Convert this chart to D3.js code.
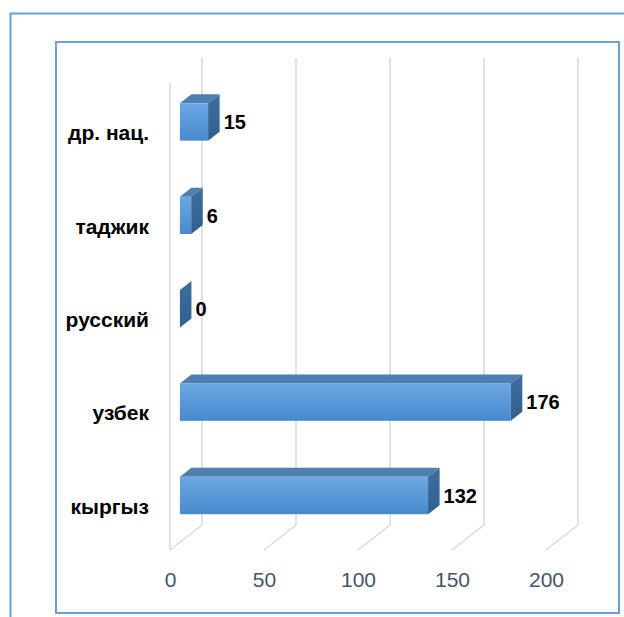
<!DOCTYPE html>
<html>
<head>
<meta charset="utf-8">
<script src="https://cdn.jsdelivr.net/npm/d3@7"></script>
<style>
  body { margin: 0; background: #fff; }
  svg { display: block; }
</style>
</head>
<body>
<div id="container"></div>
<script>
/* CONSTANTS AND GLOBALS */
const width = 624,
  height = 617

// 3d depth offset (back plane is up and to the right)
const DX = 32, DY = 25
const z0 = 0.31, z1 = 0.67   // bar front / back depth

/* DATA */
const categories = ["кыргыз", "узбек", "русский", "таджик", "др. нац."]
const values = [132, 176, 0, 6, 15]
const tickValues = [0, 50, 100, 150, 200]

const data = categories.map((c, i) => ({ cat: c, value: values[i] }))

// + SCALES (front plane)
const xScale = d3.scaleLinear()
  .domain([0, 200])
  .range([170, 546])

const yScale = d3.scaleBand()
  .domain(categories.slice().reverse())
  .range([83, 550])
  .paddingInner(0.6)
  .paddingOuter(0.3)

const proj = (v, z, y) => [xScale(v) + z * DX, y - z * DY]

// CREATE SVG ELEMENT
const svg = d3.select("#container")
  .append("svg")
  .attr("width", width)
  .attr("height", height)

const defs = svg.append("defs")
const grad = defs.append("linearGradient")
  .attr("id", "front")
  .attr("x1", 0).attr("y1", 0).attr("x2", 0).attr("y2", 1)
grad.append("stop").attr("offset", "0%").attr("stop-color", "#6ca8e2")
grad.append("stop").attr("offset", "100%").attr("stop-color", "#4689cd")

const sideGrad = defs.append("linearGradient")
  .attr("id", "side")
  .attr("x1", 0).attr("y1", 0).attr("x2", 0).attr("y2", 1)
sideGrad.append("stop").attr("offset", "0%").attr("stop-color", "#3f6e9e")
sideGrad.append("stop").attr("offset", "100%").attr("stop-color", "#30608f")

// frames
svg.append("rect")
  .attr("x", 10.5).attr("y", 13.5)
  .attr("width", 640).attr("height", 640)
  .attr("fill", "none")
  .attr("stroke", "#6a9fd9")
  .attr("stroke-width", 2)

svg.append("rect")
  .attr("x", 56).attr("y", 42)
  .attr("width", 563).attr("height", 571)
  .attr("fill", "#fff")
  .attr("stroke", "#6a9fd9")
  .attr("stroke-width", 2)

// GRIDLINES (back wall + floor diagonals)
const [y0, y1] = yScale.range()
const grid = svg.append("g").attr("class", "grid")
  .attr("fill", "none")
  .attr("stroke", "#d6d9e4")
  .attr("stroke-width", 1.5)

grid.selectAll("path")
  .data(tickValues)
  .join("path")
  .attr("d", t => {
    const top = proj(t, 1, y0), bot = proj(t, 1, y1), front = proj(t, 0, y1)
    return `M${top}L${bot}L${front}`
  })

// front edge of the zero wall
grid.append("path")
  .attr("d", `M${proj(0, 0, y0)}L${proj(0, 0, y1)}`)

// BARS
const bars = svg.selectAll(".bar")
  .data(data)
  .join("g")
  .attr("class", "bar")

const bw = yScale.bandwidth()

bars.append("path")
  .attr("fill", "#4f7fb0")
  .attr("d", d => {
    const y = yScale(d.cat)
    return "M" + [proj(0, z0, y), proj(0, z1, y), proj(d.value, z1, y), proj(d.value, z0, y)].join("L") + "Z"
  })

bars.append("rect")
  .attr("fill", "url(#front)")
  .attr("x", d => proj(0, z0, 0)[0])
  .attr("y", d => proj(0, z0, yScale(d.cat))[1])
  .attr("width", d => xScale(d.value) - xScale(0))
  .attr("height", bw)

bars.append("path")
  .attr("fill", "url(#side)")
  .attr("d", d => {
    const y = yScale(d.cat)
    return "M" + [proj(d.value, z0, y), proj(d.value, z1, y), proj(d.value, z1, y + bw), proj(d.value, z0, y + bw)].join("L") + "Z"
  })

// value labels
bars.append("text")
  .attr("x", d => proj(d.value, z1, 0)[0] + 4)
  .attr("y", d => proj(0, z0, yScale(d.cat) + bw / 2)[1])
  .attr("dy", "0.36em")
  .attr("font-family", "Liberation Sans, Arial, sans-serif")
  .attr("font-size", 20)
  .attr("font-weight", "bold")
  .attr("fill", "#000")
  .text(d => d.value)

// category labels
svg.append("g")
  .selectAll("text")
  .data(categories)
  .join("text")
  .attr("x", 149)
  .attr("y", d => yScale(d) + yScale.bandwidth() / 2 + 3)
  .attr("dy", "0.36em")
  .attr("text-anchor", "end")
  .attr("font-family", "Liberation Sans, Arial, sans-serif")
  .attr("font-size", 21)
  .attr("font-weight", "bold")
  .attr("fill", "#000")
  .text(d => d)

// BUILD AND CALL AXES
const xAxis = d3.axisBottom(xScale)
  .tickValues(tickValues)
  .tickSize(0)
  .tickPadding(0)

const axisG = svg.append("g")
  .attr("class", "xAxis")
  .attr("transform", "translate(0,572)")
  .call(xAxis)

axisG.select(".domain").remove()
axisG.selectAll("text")
  .attr("font-family", "Liberation Sans, Arial, sans-serif")
  .attr("font-size", 21)
  .attr("fill", "#44546a")
</script>
</body>
</html>
